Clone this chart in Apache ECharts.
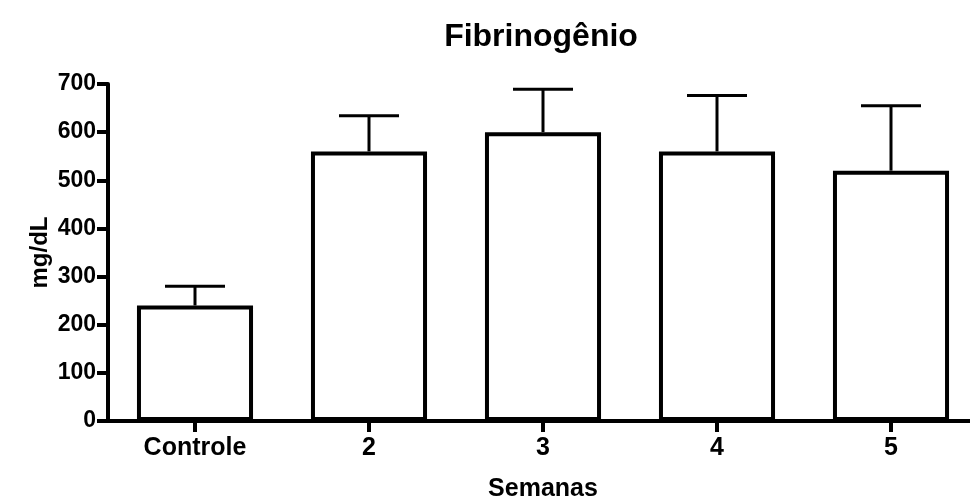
<!DOCTYPE html>
<html>
<head>
<meta charset="utf-8">
<script src="https://cdn.jsdelivr.net/npm/echarts@6/dist/echarts.min.js"></script>
<style>html,body{margin:0;padding:0;background:#fff}#c{width:970px;height:500px}</style>
</head>
<body>
<div id="c"></div>
<script>
var categories = ['Controle', '2', '3', '4', '5'];
var means = [240, 560, 600, 560, 520];
var errors = [40, 74, 89, 116, 135];
var yTicks = [0, 100, 200, 300, 400, 500, 600, 700];

var FONT = "'Liberation Sans', Arial, Helvetica, sans-serif";
var chart = echarts.init(document.getElementById('c'), null, {renderer: 'canvas'});

var errData = categories.map(function (c, i) { return [i, means[i], means[i] + errors[i]]; });

chart.setOption({
  backgroundColor: '#fff',
  animation: false,
  title: {
    text: 'Fibrinogênio',
    left: 536,
    textAlign: 'center',
    top: 16,
    textStyle: {fontFamily: FONT, fontWeight: 'bold', fontSize: 32, color: '#000'}
  },
  grid: {left: 108, width: 870, top: 84, height: 337, containLabel: false, outerBoundsMode: 'none'},
  xAxis: {
    type: 'category',
    data: categories,
    name: 'Semanas',
    nameLocation: 'middle',
    nameGap: 56,
    nameMoveOverlap: false,
    nameTextStyle: {fontFamily: FONT, fontWeight: 'bold', fontSize: 25, color: '#000'},
    axisLine: {lineStyle: {color: '#000', width: 4}},
    axisTick: {show: true, alignWithLabel: true, length: 11, lineStyle: {color: '#000', width: 4}},
    axisLabel: {margin: 15, fontFamily: FONT, fontWeight: 'bold', fontSize: 25, color: '#000'},
    splitLine: {show: false}
  },
  yAxis: {
    type: 'value',
    min: yTicks[0],
    max: yTicks[yTicks.length - 1],
    interval: 100,
    name: 'mg/dL',
    nameLocation: 'middle',
    nameRotate: 90,
    nameGap: 56,
    nameMoveOverlap: false,
    nameTextStyle: {fontFamily: FONT, fontWeight: 'bold', fontSize: 24, color: '#000'},
    axisLine: {show: true, lineStyle: {color: '#000', width: 4}},
    axisTick: {show: true, length: 11, lineStyle: {color: '#000', width: 4}},
    axisLabel: {margin: 12, fontFamily: FONT, fontWeight: 'bold', fontSize: 23, color: '#000'},
    splitLine: {show: false}
  },
  series: [
    {
      type: 'bar',
      data: means,
      barWidth: '66.7%',
      itemStyle: {color: '#fff', borderColor: '#000', borderWidth: 4},
      z: 2
    },
    {
      type: 'custom',
      data: errData,
      z: 3,
      renderItem: function (params, api) {
        var x = api.value(0);
        var p0 = api.coord([x, api.value(1)]);
        var p1 = api.coord([x, api.value(2)]);
        var half = 30;
        var style = {stroke: '#000', lineWidth: 3};
        return {
          type: 'group',
          children: [
            {type: 'line', shape: {x1: p0[0], y1: p0[1], x2: p1[0], y2: p1[1]}, style: style},
            {type: 'line', shape: {x1: p1[0] - half, y1: p1[1], x2: p1[0] + half, y2: p1[1]}, style: style}
          ]
        };
      }
    }
  ]
});
</script>
</body>
</html>
